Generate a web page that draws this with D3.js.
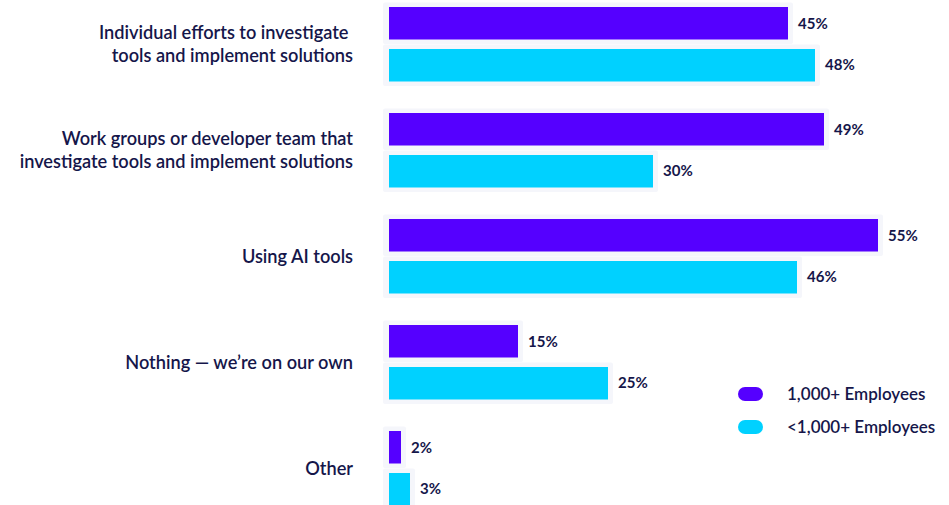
<!DOCTYPE html>
<html>
<head>
<meta charset="utf-8">
<script src="https://cdn.jsdelivr.net/npm/d3@7"></script>
<style>
  html, body { margin: 0; padding: 0; background: #ffffff; }
  svg { display: block; font-family: Lato, "Open Sans", sans-serif; }
</style>
</head>
<body>
<svg id="chart" width="949" height="505"></svg>
<script>
// Survey answers, one group per category
const categories = [
  ["Individual efforts to investigate ", "tools and implement solutions"],
  ["Work groups or developer team that", "investigate tools and implement solutions"],
  ["Using AI tools"],
  ["Nothing \u2014 we\u2019re on our own"],
  ["Other"]
];
const seriesNames = ["1,000+ Employees", "<1,000+ Employees"];
const largeCompanies = [45, 49, 55, 15, 2];
const smallCompanies = [48, 30, 46, 25, 3];
const seriesColors = ["#5500ff", "#00d1ff"];

const svg = d3.select("#chart");
const textColor = "#15164a";

const x = d3.scaleLinear().domain([0, 55]).range([383, 878]);
const barStart = 389;

const y = d3.scaleBand()
  .domain(d3.range(categories.length))
  .range([0, 530]);

const inner = d3.scaleBand()
  .domain([0, 1])
  .range([7, 81.5])
  .paddingInner(0.226);

const rows = categories.map((c, i) => ({
  label: c,
  values: [largeCompanies[i], smallCompanies[i]]
}));

const groups = svg.selectAll("g.group")
  .data(rows)
  .join("g")
  .attr("class", "group")
  .attr("transform", (d, i) => `translate(0,${y(i)})`);

// soft backing panel behind each bar
groups.selectAll("rect.halo")
  .data(d => d.values)
  .join("rect")
  .attr("class", "halo")
  .attr("x", x(0))
  .attr("y", (v, j) => inner(j) - 4.5)
  .attr("width", v => x(v) + 5 - x(0))
  .attr("height", inner.bandwidth() + 9)
  .attr("rx", 2)
  .attr("fill", "#f5f6fb");

groups.selectAll("rect.bar")
  .data(d => d.values)
  .join("rect")
  .attr("class", "bar")
  .attr("x", barStart)
  .attr("y", (v, j) => inner(j))
  .attr("width", v => x(v) - barStart)
  .attr("height", inner.bandwidth())
  .attr("fill", (v, j) => seriesColors[j]);

groups.selectAll("text.value")
  .data(d => d.values)
  .join("text")
  .attr("class", "value")
  .attr("x", v => x(v) + 10)
  .attr("y", (v, j) => inner(j) + inner.bandwidth() / 2)
  .attr("dy", "0.35em")
  .attr("font-size", 15)
  .attr("font-weight", 700)
  .attr("fill", textColor)
  .text(v => v + "%");

// category labels, right-aligned against the bars
groups.append("text")
  .attr("class", "cat")
  .attr("text-anchor", "end")
  .attr("font-size", 18.2)
  .attr("font-weight", 600)
  .attr("fill", textColor)
  .style("white-space", "pre")
  .attr("xml:space", "preserve")
  .each(function (d) {
    const t = d3.select(this);
    const lh = 23;
    const mid = (inner(0) + inner(1) + inner.bandwidth()) / 2;
    const top = mid - (d.label.length - 1) * lh / 2;
    d.label.forEach((line, k) => {
      t.append("tspan")
        .attr("x", 353)
        .attr("y", top + k * lh)
        .attr("dy", "0.35em")
        .text(line);
    });
  });

// legend
const legend = svg.append("g").attr("class", "legend");
const legendItems = legend.selectAll("g")
  .data(seriesNames)
  .join("g")
  .attr("transform", (d, i) => `translate(738,${394 + i * 33})`);
legendItems.append("rect")
  .attr("x", 0)
  .attr("y", -7)
  .attr("width", 25)
  .attr("height", 14)
  .attr("rx", 7)
  .attr("fill", (d, i) => seriesColors[i]);
legendItems.append("text")
  .attr("x", 49)
  .attr("dy", "0.35em")
  .attr("font-size", 17)
  .attr("font-weight", 600)
  .attr("fill", textColor)
  .text(d => d);
</script>
</body>
</html>
